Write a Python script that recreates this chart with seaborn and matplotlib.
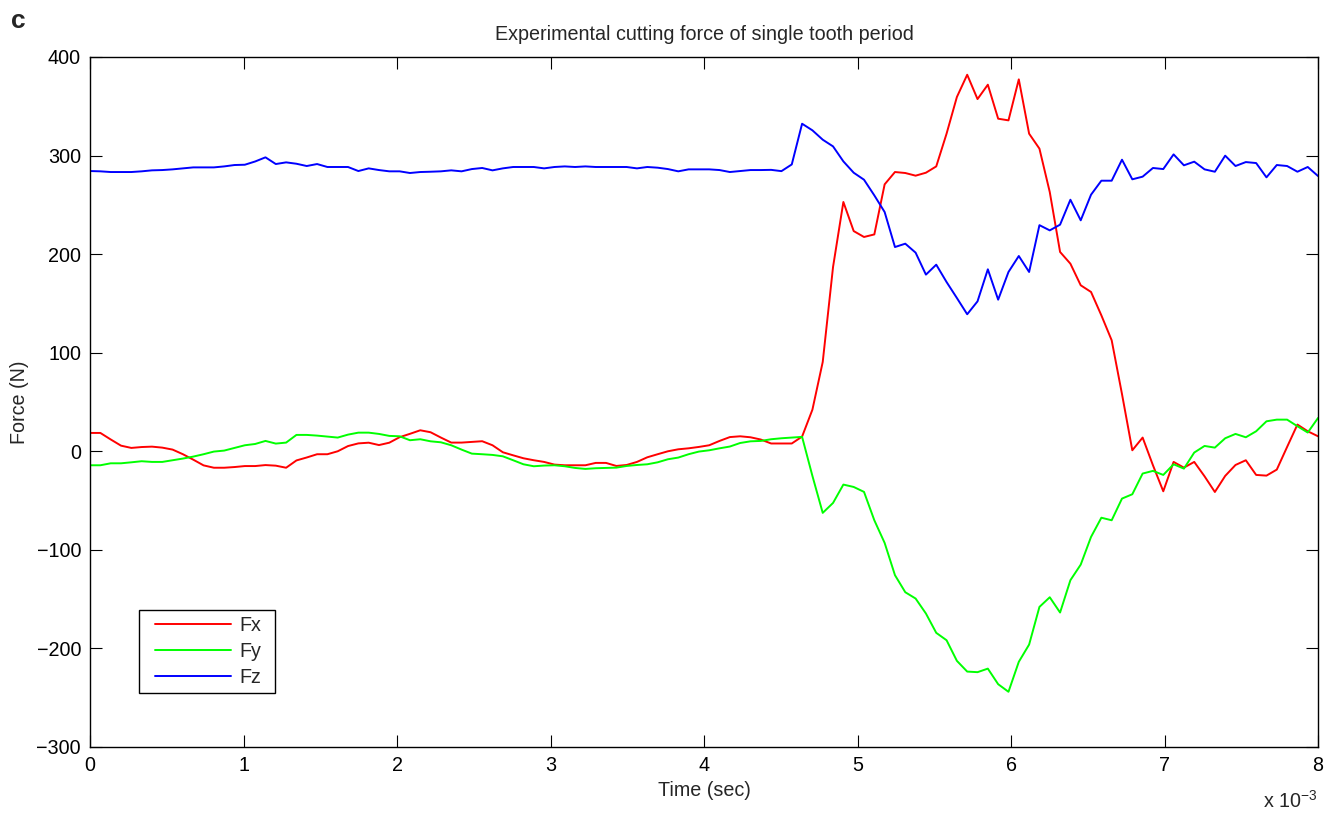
import numpy as np
import pandas as pd
import seaborn as sns
import matplotlib.pyplot as plt
from matplotlib.lines import Line2D
from matplotlib.legend_handler import HandlerLine2D

# Sample times (ms), one tooth period sampled evenly
time_ms = np.linspace(0, 8, 120)

fx = [18.6, 18.6, 12, 5.7, 3.4, 4.3, 4.7, 3.7, 1.7, -3, -8.5, -14.3, -16.7, -16.7, -16, -15,
      -15, -14, -14.6, -16.7, -9.3, -6.3, -3, -3, 0, 5.3, 8, 8.7, 6.3, 8.7, 14.3, 17.7,
      21.3, 19.3, 13.9, 8.8, 8.8, 9.5, 10.2, 6.1, -1, -4.1, -7.1, -9.1, -10.8, -13.5,
      -14.2, -14.2, -14.2, -11.8, -11.8, -14.9, -13.9, -10.8, -6.1, -3, 0, 2, 3, 4.4,
      6.1, 10.5, 14.4, 15.2, 14.2, 11.9, 7.9, 7.9, 7.9, 14.9, 42.2, 90.6, 187, 252.9,
      223.4, 217.4, 220, 270.8, 283.3, 282.3, 279.6, 282.6, 289, 322.2, 359.4, 382,
      357.3, 371.9, 337.4, 335.7, 377.3, 322.2, 307, 263, 202.2, 190.3, 168.4, 161.6,
      137.9, 112.6, 58, 1, 13.9, -14.2, -40.6, -10.8, -16.6, -10.8, -25.4, -41.3, -25,
      -13.9, -9.1, -24, -24.7, -18.6, 4.4, 27.1, 20.3, 15.2]

fy = [-14.2, -14.2, -12.2, -12.2, -11.2, -10.1, -10.8, -10.8, -9.1, -7.4, -5.4, -3,
      -0.3, 0.7, 3.4, 6.1, 7.4, 10.5, 7.8, 8.8, 16.6, 16.6, 15.9, 14.9, 13.9, 16.9, 18.9,
      18.9, 17.6, 15.6, 15.2, 11.2, 12.2, 10.1, 9.1, 6.1, 1.7, -2.4, -3, -3.7, -5.1,
      -9.1, -13.2, -15.2, -14.5, -14.2, -15.2, -16.9, -17.9, -17.2, -16.9, -16.6, -14.9,
      -13.9, -13.2, -11.2, -8.1, -6.4, -3, -0.3, 1, 3, 4.8, 8.4, 10.1, 10.5, 12.2, 13.2,
      13.9, 14.6, -25, -62.5, -52.4, -33.8, -36.2, -41.2, -70, -93, -125.7, -143,
      -149.4, -164.6, -184.2, -191.7, -212.6, -223.5, -224.1, -220.5, -236.3, -244,
      -213.6, -196.1, -157.9, -148.1, -163.6, -130.8, -115, -86.9, -67.4, -70, -48,
      -43.6, -22.6, -19.9, -24, -13.2, -17.6, -1.3, 5.4, 3.7, 13.2, 17.6, 14.2, 20.3,
      30.4, 32.1, 32.1, 25.4, 19, 33.8]

fz = [284.3, 284, 283.3, 283.3, 283.3, 284, 285, 285.3, 286, 287, 288, 288, 288, 289,
      290.4, 290.7, 294, 298.2, 291.4, 293.1, 291.7, 289.4, 291.4, 288.4, 288.4, 288.4,
      284.3, 287, 285.3, 284, 284, 282.3, 283.3, 283.6, 284, 285, 284, 286.3, 287.4,
      285, 287, 288.4, 288.4, 288.4, 287, 288.4, 289, 288.4, 289, 288.4, 288.4, 288.4,
      288.4, 287, 288.4, 287.7, 286.3, 284, 286, 286, 286, 285.3, 283.3, 284.3, 285.3,
      285.3, 285.5, 284.2, 291, 332.3, 325.6, 316.1, 309.3, 294.1, 282.6, 275.5, 259.6,
      242.7, 207.2, 210.6, 201.5, 179.2, 189.3, 171.7, 155.5, 139, 152.1, 184.6, 153.8,
      181.9, 198.1, 181.9, 229.4, 224.1, 229.9, 255.2, 234.3, 260.3, 274.5, 274.5,
      295.8, 275.9, 278.6, 287.4, 286.3, 301.2, 290.1, 293.8, 286, 283.6, 299.9, 289.4,
      293.4, 292.4, 277.9, 290.4, 289.4, 283.6, 288.4, 279.2]

series_names = ['Fx', 'Fy', 'Fz']
series_colors = {'Fx': '#ff0000', 'Fy': '#00ff00', 'Fz': '#0000ff'}
x_tick_labels = ['0', '1', '2', '3', '4', '5', '6', '7', '8']
y_ticks = [-300, -200, -100, 0, 100, 200, 300, 400]

df = pd.DataFrame({'Time': time_ms * 1e-3, 'Fx': fx, 'Fy': fy, 'Fz': fz})
df = df.melt(id_vars='Time', value_vars=series_names, var_name='Series', value_name='Force')

sns.set_style("ticks")
plt.rcParams['font.family'] = ['Liberation Sans', 'DejaVu Sans']
plt.rcParams['mathtext.fontset'] = 'custom'
plt.rcParams['mathtext.rm'] = 'Liberation Sans'

fs = 14.2
fig = plt.figure(figsize=(13.38, 8.13), dpi=100)
ax = fig.add_axes([0.0673, 0.0812, 0.9178, 0.8487])

sns.lineplot(data=df, x='Time', y='Force', hue='Series', palette=series_colors,
             estimator=None, sort=False, linewidth=1.4, ax=ax)

ax.set_xlim(0, 8e-3)
ax.set_ylim(-300, 400)
ax.set_xticks([i * 1e-3 for i in range(len(x_tick_labels))])
ax.set_xticklabels(x_tick_labels)
ax.set_yticks(y_ticks)
ax.tick_params(direction='in', length=8.5, width=0.8, top=True, right=True,
               labelsize=fs, pad=6.5, colors='black')
for sp in ax.spines.values():
    sp.set_color('black')
    sp.set_linewidth(1.0)

ax.set_xlabel('Time (sec)', fontsize=fs, labelpad=4.5)
ax.set_ylabel('Force (N)', fontsize=fs, labelpad=5)
ax.set_title('Experimental cutting force of single tooth period', fontsize=fs, pad=12)

# MATLAB-like legend box: short line with gap on both sides, square frame
handles, labels = ax.get_legend_handles_labels()
ax.legend(handles, labels, loc='lower left', bbox_to_anchor=(0.0401, 0.0778, 0.1108, 0),
          mode='expand', borderaxespad=0, fancybox=False, edgecolor='black',
          framealpha=1, handlelength=4.86, handletextpad=-0.1, fontsize=fs,
          labelspacing=0.37, borderpad=0.3, numpoints=2,
          handler_map={Line2D: HandlerLine2D(marker_pad=0.5)})
ax.get_legend().get_frame().set_linewidth(1.0)

fig.text(0.985, 0.002, r'x 10$^{-3}$', ha='right', va='bottom', fontsize=fs)
fig.text(0.008, 0.974, 'c', fontsize=19, fontweight='bold', va='center', ha='left')

fig.savefig('out.png', dpi=100)
